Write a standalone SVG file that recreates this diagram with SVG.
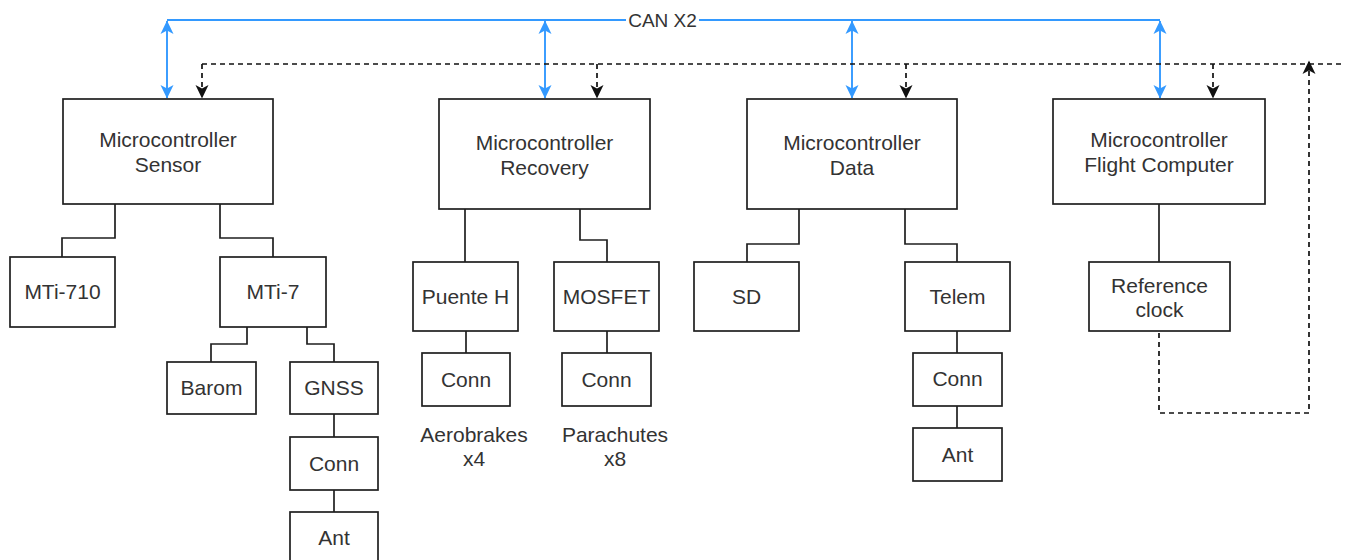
<svg xmlns="http://www.w3.org/2000/svg" width="1345" height="560" viewBox="0 0 1345 560">
  <defs>
    <style>
      .box { fill: #ffffff; stroke: #1f1f1f; stroke-width: 1.7; }
      .lbl { font-family: "Liberation Sans", Arial, sans-serif; font-size: 21px; fill: #333333; text-anchor: middle; }
      .bus-lbl { font-size: 19px; }
      .wire { fill: none; stroke: #1f1f1f; stroke-width: 1.7; }
      .can { fill: none; stroke: #3399ff; stroke-width: 1.9; }
      .sync { fill: none; stroke: #111111; stroke-width: 1.7; stroke-dasharray: 5 4; }
    </style>
    <marker id="canHead" markerUnits="userSpaceOnUse" viewBox="0 0 14 14" markerWidth="14" markerHeight="14" refX="13" refY="7" orient="auto-start-reverse">
      <path d="M0,0.5 L13.5,7 L0,13.5 L3.5,7 Z" fill="#3399ff"/>
    </marker>
    <marker id="syncHead" markerUnits="userSpaceOnUse" viewBox="0 0 14 14" markerWidth="14" markerHeight="14" refX="13" refY="7" orient="auto">
      <path d="M0,0.5 L13.5,7 L0,13.5 L3.5,7 Z" fill="#111111"/>
    </marker>
  </defs>

  <rect x="0" y="0" width="1345" height="560" fill="#ffffff"/>

  <!-- connectors -->
  <g id="connectors">
    <!-- CAN bus -->
    <path class="can" d="M167,20 H1160"/>
    <path class="can" d="M167,21 V98" marker-start="url(#canHead)" marker-end="url(#canHead)"/>
    <path class="can" d="M545,21 V98" marker-start="url(#canHead)" marker-end="url(#canHead)"/>
    <path class="can" d="M852,21 V98" marker-start="url(#canHead)" marker-end="url(#canHead)"/>
    <path class="can" d="M1160,21 V98" marker-start="url(#canHead)" marker-end="url(#canHead)"/>
    <rect x="626" y="10" width="73" height="20" fill="#ffffff"/>
    <text class="lbl bus-lbl" x="662.5" y="27">CAN X2</text>

    <!-- clock distribution -->
    <path class="sync" d="M202,64 H1345"/>
    <path class="sync" d="M202,64 V98" marker-end="url(#syncHead)"/>
    <path class="sync" d="M597,64 V98" marker-end="url(#syncHead)"/>
    <path class="sync" d="M906,64 V98" marker-end="url(#syncHead)"/>
    <path class="sync" d="M1213,64 V98" marker-end="url(#syncHead)"/>
    <path class="sync" d="M1159,333 V413 H1309 V61" marker-end="url(#syncHead)"/>

    <!-- sensor tree -->
    <path class="wire" d="M115,204 V238 H62 V257"/>
    <path class="wire" d="M220,204 V238 H273 V257"/>
    <path class="wire" d="M247,327 V344 H211 V362"/>
    <path class="wire" d="M307,327 V344 H334 V362"/>
    <path class="wire" d="M334,414 V437"/>
    <path class="wire" d="M334,490 V512"/>

    <!-- recovery tree -->
    <path class="wire" d="M465,209 V262"/>
    <path class="wire" d="M580,209 V240 H607 V262"/>
    <path class="wire" d="M466,331 V353"/>
    <path class="wire" d="M607,331 V353"/>

    <!-- data tree -->
    <path class="wire" d="M799,209 V244 H747 V262"/>
    <path class="wire" d="M905,209 V244 H957 V262"/>
    <path class="wire" d="M957,331 V353"/>
    <path class="wire" d="M957,406 V428"/>

    <!-- flight computer -->
    <path class="wire" d="M1159,204 V262"/>
  </g>

  <!-- sensor branch -->
  <g id="mcu-sensor">
    <rect class="box" x="63" y="99" width="210" height="105"/>
    <text class="lbl" x="168" y="147">Microcontroller</text>
    <text class="lbl" x="168" y="172">Sensor</text>
  </g>
  <g id="mti-710">
    <rect class="box" x="10" y="257" width="105" height="70"/>
    <text class="lbl" x="62.5" y="299">MTi-710</text>
  </g>
  <g id="mti-7">
    <rect class="box" x="220" y="257" width="106" height="70"/>
    <text class="lbl" x="273" y="299">MTi-7</text>
  </g>
  <g id="barom">
    <rect class="box" x="167" y="362" width="89" height="52"/>
    <text class="lbl" x="211.5" y="395">Barom</text>
  </g>
  <g id="gnss">
    <rect class="box" x="290" y="362" width="88" height="52"/>
    <text class="lbl" x="334" y="395">GNSS</text>
  </g>
  <g id="gnss-conn">
    <rect class="box" x="290" y="437" width="88" height="53"/>
    <text class="lbl" x="334" y="471">Conn</text>
  </g>
  <g id="gnss-ant">
    <rect class="box" x="290" y="512" width="88" height="53"/>
    <text class="lbl" x="334" y="545">Ant</text>
  </g>

  <!-- recovery branch -->
  <g id="mcu-recovery">
    <rect class="box" x="439" y="99" width="211" height="110"/>
    <text class="lbl" x="544.5" y="150">Microcontroller</text>
    <text class="lbl" x="544.5" y="175">Recovery</text>
  </g>
  <g id="puente-h">
    <rect class="box" x="413" y="262" width="105" height="69"/>
    <text class="lbl" x="465.5" y="304">Puente H</text>
  </g>
  <g id="mosfet">
    <rect class="box" x="554" y="262" width="105" height="69"/>
    <text class="lbl" x="606.5" y="304">MOSFET</text>
  </g>
  <g id="aerobrake-conn">
    <rect class="box" x="422" y="353" width="88" height="53"/>
    <text class="lbl" x="466" y="387">Conn</text>
  </g>
  <g id="parachute-conn">
    <rect class="box" x="562" y="353" width="89" height="53"/>
    <text class="lbl" x="606.5" y="387">Conn</text>
  </g>
  <g id="aerobrakes-note">
    <text class="lbl" x="474" y="442">Aerobrakes</text>
    <text class="lbl" x="474" y="466">x4</text>
  </g>
  <g id="parachutes-note">
    <text class="lbl" x="615" y="442">Parachutes</text>
    <text class="lbl" x="615" y="466">x8</text>
  </g>

  <!-- data branch -->
  <g id="mcu-data">
    <rect class="box" x="747" y="99" width="210" height="110"/>
    <text class="lbl" x="852" y="150">Microcontroller</text>
    <text class="lbl" x="852" y="175">Data</text>
  </g>
  <g id="sd">
    <rect class="box" x="694" y="262" width="105" height="69"/>
    <text class="lbl" x="746.5" y="304">SD</text>
  </g>
  <g id="telem">
    <rect class="box" x="905" y="262" width="105" height="69"/>
    <text class="lbl" x="957.5" y="304">Telem</text>
  </g>
  <g id="telem-conn">
    <rect class="box" x="913" y="353" width="89" height="53"/>
    <text class="lbl" x="957.5" y="386">Conn</text>
  </g>
  <g id="telem-ant">
    <rect class="box" x="913" y="428" width="89" height="53"/>
    <text class="lbl" x="957.5" y="462">Ant</text>
  </g>

  <!-- flight computer branch -->
  <g id="mcu-flight">
    <rect class="box" x="1053" y="99" width="212" height="105"/>
    <text class="lbl" x="1159" y="147">Microcontroller</text>
    <text class="lbl" x="1159" y="172">Flight Computer</text>
  </g>
  <g id="ref-clock">
    <rect class="box" x="1089" y="262" width="141" height="69"/>
    <text class="lbl" x="1159.5" y="293">Reference</text>
    <text class="lbl" x="1159.5" y="317">clock</text>
  </g>
</svg>
